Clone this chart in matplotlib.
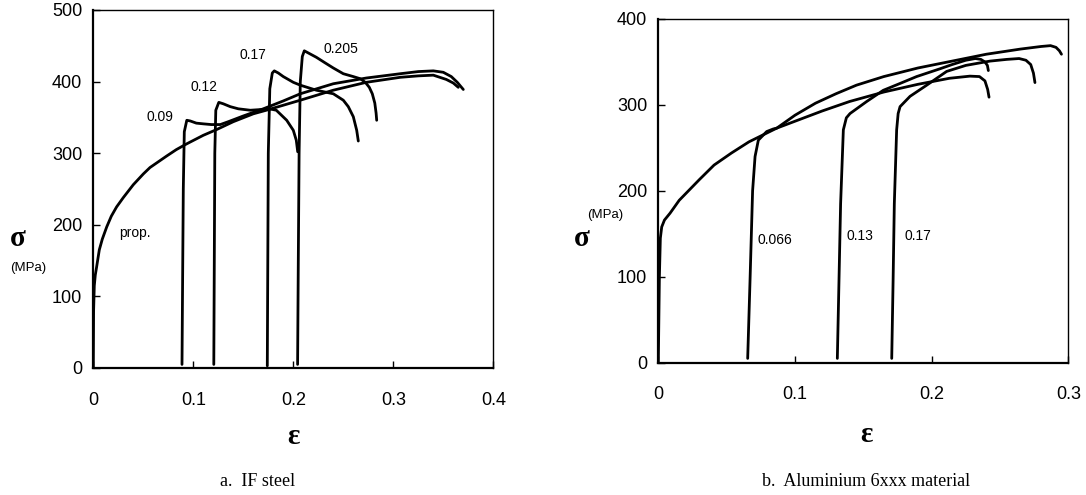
import matplotlib
matplotlib.use('Agg')
import matplotlib.pyplot as plt

# ---- a. IF steel (strain, stress MPa) ----
eps_prop = [0, 0.0003, 0.001, 0.002, 0.0033, 0.006, 0.009, 0.0134, 0.018, 0.0233,
            0.03, 0.04, 0.05, 0.0567, 0.065, 0.0733, 0.083, 0.0933, 0.11, 0.1233,
            0.14, 0.16, 0.173, 0.19, 0.207, 0.24, 0.273, 0.307, 0.325, 0.34,
            0.353, 0.36, 0.365]
sig_prop = [0, 80, 115, 130, 141, 165, 180, 197, 212, 225,
            238, 256, 271, 280, 288, 296, 305, 313, 325, 333,
            344, 355, 360, 367, 374, 388, 399, 406, 408, 409,
            403, 398, 392]

eps_09 = [0.0887, 0.0893, 0.0900, 0.0910, 0.0935, 0.097, 0.103, 0.11, 0.118,
          0.127, 0.135, 0.15, 0.17, 0.19, 0.207, 0.24, 0.273, 0.307, 0.325,
          0.34, 0.35, 0.358, 0.364, 0.37]
sig_09 = [5, 120, 250, 330, 346, 345, 342, 341, 340,
          340, 344, 352, 362, 373, 383, 397, 405, 411, 414,
          415, 413, 407, 399, 389]

eps_12 = [0.1205, 0.121, 0.1215, 0.1225, 0.1255, 0.13, 0.137, 0.145, 0.157,
          0.168, 0.176, 0.183, 0.1934, 0.2, 0.203, 0.2044]
sig_12 = [5, 150, 300, 360, 371, 369, 365, 362, 360,
          361, 362, 360, 346, 332, 318, 302]

eps_17 = [0.174, 0.1745, 0.175, 0.1765, 0.179, 0.181, 0.185, 0.19, 0.2, 0.207,
          0.223, 0.24, 0.25, 0.255, 0.26, 0.2634, 0.265]
sig_17 = [3, 150, 300, 390, 412, 415, 412, 407, 399, 395,
          388, 383, 374, 365, 351, 332, 317]

eps_205 = [0.2043, 0.205, 0.2058, 0.207, 0.209, 0.211, 0.215, 0.223, 0.232,
           0.24, 0.25, 0.26, 0.267, 0.272, 0.276, 0.279, 0.2815, 0.2828, 0.2834]
sig_205 = [5, 150, 300, 400, 435, 443, 440, 434, 426,
           419, 411, 407, 404, 399, 392, 383, 370, 356, 346]

# ---- b. Aluminium 6xxx ----
eps_al_p = [0, 0.0008, 0.0015, 0.0025, 0.0045, 0.0086, 0.0153, 0.03, 0.0408,
            0.0535, 0.0663, 0.0867, 0.1, 0.115, 0.13, 0.145, 0.165, 0.19, 0.215,
            0.24, 0.265, 0.28, 0.287, 0.291, 0.2935, 0.295]
sig_al_p = [0, 100, 145, 158, 166, 174, 189, 213, 230,
            244, 257, 273, 288, 302, 313, 323, 333, 343, 351,
            359, 365, 368, 369, 367, 363, 359]

eps_al_066 = [0.0654, 0.0672, 0.069, 0.0708, 0.0732, 0.0793, 0.0841, 0.0867, 0.1,
              0.12, 0.14, 0.165, 0.19, 0.213, 0.228, 0.235, 0.239, 0.241, 0.242]
sig_al_066 = [5, 100, 200, 240, 259, 269, 272, 273, 281,
              293, 304, 315, 324, 331, 333.5, 333, 328, 318, 309]

eps_al_13 = [0.131, 0.1322, 0.1334, 0.1354, 0.1376, 0.1403, 0.1525, 0.1646, 0.1769,
             0.189, 0.206, 0.215, 0.225, 0.232, 0.236, 0.239, 0.2408, 0.2415]
sig_al_13 = [5, 95, 185, 271, 285, 290, 304, 317, 325,
             333, 342, 347, 352, 354, 353, 350, 346, 340]

eps_al_17 = [0.1708, 0.1718, 0.1727, 0.1744, 0.1755, 0.1769, 0.1842, 0.1964, 0.211,
             0.225, 0.2427, 0.255, 0.264, 0.269, 0.2725, 0.2745, 0.2756]
sig_al_17 = [5, 95, 185, 271, 290, 298, 310, 323, 339,
             346, 351, 353, 354, 352, 347, 337, 326]

steel_ticks_x = [0, 0.1, 0.2, 0.3, 0.4]
steel_ticks_y = [0, 100, 200, 300, 400, 500]
al_ticks_x = [0, 0.1, 0.2, 0.3]
al_ticks_y = [0, 100, 200, 300, 400]

W, H = 1086, 495
sans = 'Liberation Sans'
serif = 'Liberation Serif'
lw = 2.0

fig = plt.figure(figsize=(W / 100, H / 100), dpi=100)


def px(x, y):
    return x / W, 1 - y / H


def style_axes(ax, xt, yt):
    ax.set_xticks(xt)
    ax.set_yticks(yt)
    ax.set_xticklabels(['0' if v == 0 else f'{v:g}' for v in xt],
                       fontfamily=sans, fontsize=13)
    ax.set_yticklabels([str(v) for v in yt], fontfamily=sans, fontsize=13)
    ax.tick_params(axis='x', direction='in', length=5, width=1, pad=17)
    ax.tick_params(axis='y', direction='in', length=5, width=1, pad=8)
    ax.spines['left'].set_linewidth(1.6)
    ax.spines['bottom'].set_linewidth(1.6)
    ax.spines['top'].set_linewidth(1.0)
    ax.spines['right'].set_linewidth(1.0)


# left panel
ax1 = fig.add_axes([93.3 / W, 1 - 368 / H, 400 / W, 358 / H])
for e, s in [(eps_prop, sig_prop), (eps_09, sig_09), (eps_12, sig_12),
             (eps_17, sig_17), (eps_205, sig_205)]:
    ax1.plot(e, s, color='black', lw=lw, solid_capstyle='round')
ax1.set_xlim(0, 0.4)
ax1.set_ylim(0, 500)
style_axes(ax1, steel_ticks_x, steel_ticks_y)
for txt, x, y in [('0.09', 0.0534, 351), ('0.12', 0.0974, 393),
                  ('0.17', 0.1467, 437), ('0.205', 0.2307, 446),
                  ('prop.', 0.026, 189)]:
    ax1.text(x, y, txt, fontfamily=sans, fontsize=10, ha='left', va='center')

# right panel
ax2 = fig.add_axes([658.3 / W, 1 - 362.7 / H, 410 / W, 343.7 / H])
for e, s in [(eps_al_p, sig_al_p), (eps_al_066, sig_al_066),
             (eps_al_13, sig_al_13), (eps_al_17, sig_al_17)]:
    ax2.plot(e, s, color='black', lw=lw, solid_capstyle='round')
ax2.set_xlim(0, 0.3)
ax2.set_ylim(0, 400)
style_axes(ax2, al_ticks_x, al_ticks_y)
for txt, x, y in [('0.066', 0.0727, 143), ('0.13', 0.1378, 147),
                  ('0.17', 0.1805, 147)]:
    ax2.text(x, y, txt, fontfamily=sans, fontsize=10, ha='left', va='center')

# axis symbols and captions
fig.text(*px(18, 239), 'σ', fontfamily=serif, fontweight='bold', fontsize=21,
         ha='center', va='center')
fig.text(*px(28, 268), '(MPa)', fontfamily=sans, fontsize=9.5,
         ha='center', va='center')
fig.text(*px(582, 239), 'σ', fontfamily=serif, fontweight='bold', fontsize=21,
         ha='center', va='center')
fig.text(*px(605, 215), '(MPa)', fontfamily=sans, fontsize=9.5,
         ha='center', va='center')
fig.text(*px(293, 436), 'ε', fontfamily=serif, fontweight='bold', fontsize=21,
         ha='center', va='center')
fig.text(*px(866, 434), 'ε', fontfamily=serif, fontweight='bold', fontsize=21,
         ha='center', va='center')
fig.text(*px(258, 481), 'a.  IF steel', fontfamily=serif, fontsize=13,
         ha='center', va='center')
fig.text(*px(866, 481), 'b.  Aluminium 6xxx material', fontfamily=serif,
         fontsize=13, ha='center', va='center')

fig.savefig('out.png', dpi=100)
